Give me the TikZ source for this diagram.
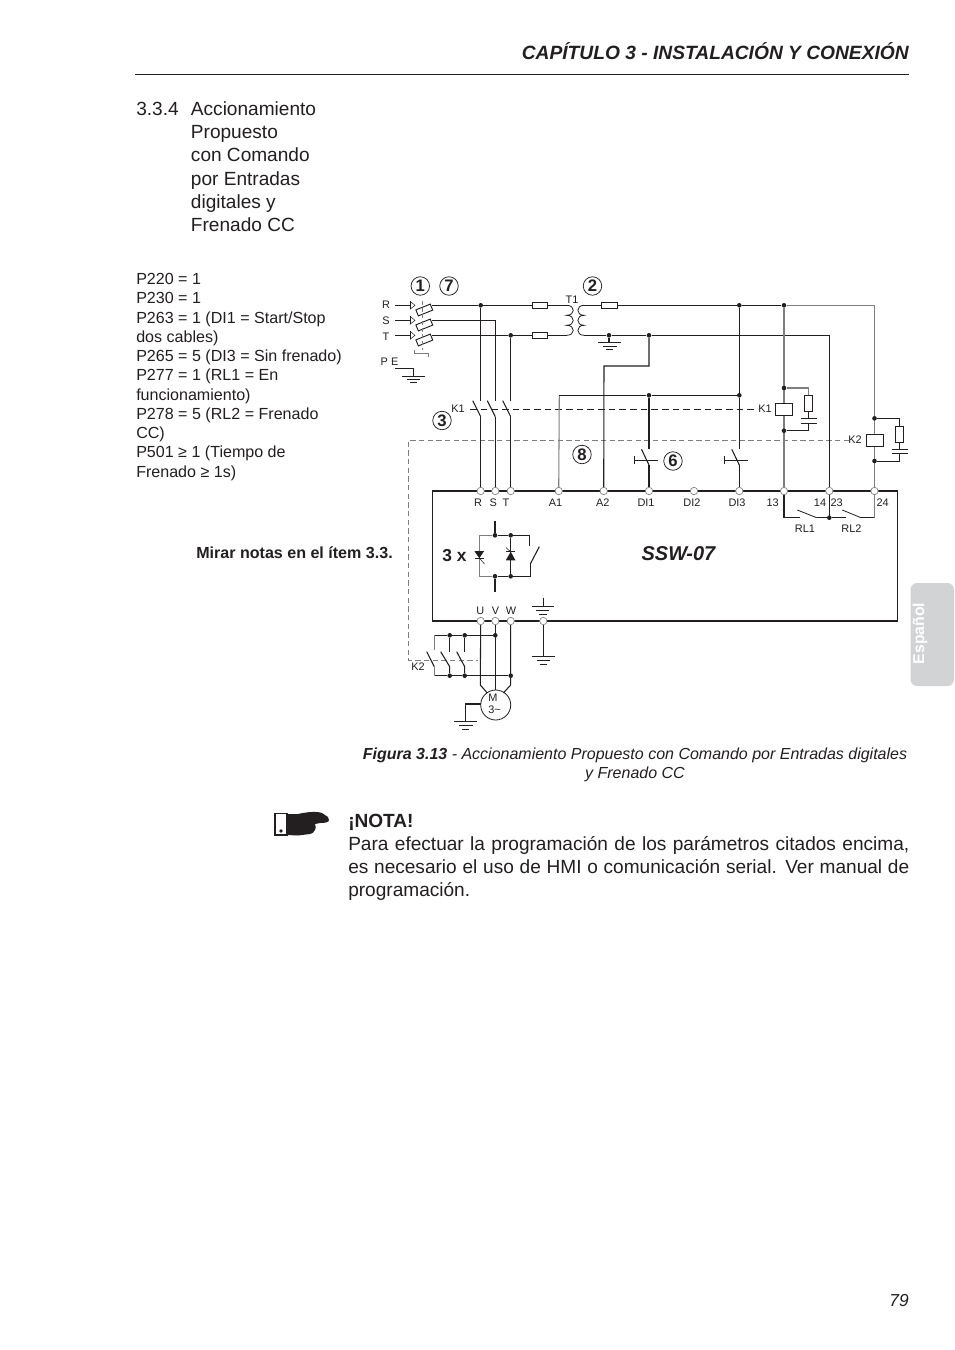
\documentclass[tikz,border=0pt]{standalone}
\usepackage{fontspec}
\setmainfont{Liberation Sans}
\usetikzlibrary{calc}
\definecolor{ink}{HTML}{231F20}
\definecolor{gwire}{HTML}{7F7F7F}
\definecolor{tabgray}{HTML}{D2D3D4}
\newcommand{\szbody}{\fontsize{14.3pt}{17pt}\selectfont}
\newcommand{\szpar}{\fontsize{12.05pt}{14pt}\selectfont}
\newcommand{\szlab}{\fontsize{8.2pt}{10pt}\selectfont}
\tikzset{
 wire/.style={line width=.8pt,draw=ink},
 gray wire/.style={line width=.8pt,draw=gwire},
 thinw/.style={line width=.6pt,draw=ink},
 txt/.style={inner sep=0pt,anchor=base west,text=ink},
 lab/.style={inner sep=0pt,anchor=base,text=ink,font=\szlab},
 dotj/.style={circle,fill=ink,inner sep=0pt,minimum size=4.6pt*.75},
 termn/.style={circle,draw=gwire,fill=white,line width=.5pt,inner sep=0pt,minimum size=7.4pt*.75},
 numc/.style={circle,draw=ink,line width=.55pt,inner sep=0pt,minimum size=18.5pt*.75,font=\fontsize{12.5pt}{14pt}\selectfont\bfseries,text=ink},
 fusebox/.style={rectangle,draw=ink,fill=white,line width=.7pt,inner sep=0pt,minimum width=15.5pt*.75,minimum height=6.5pt*.75},
 resbox/.style={rectangle,draw=ink,fill=white,line width=.7pt,inner sep=0pt,minimum width=8pt*.75,minimum height=16pt*.75},
 coilbox/.style={rectangle,draw=ink,fill=white,line width=.8pt,inner sep=0pt,minimum width=17pt*.75,minimum height=12.5pt*.75},
}
\begin{document}
\begin{tikzpicture}[x=0.75pt,y=-0.75pt]
\useasboundingbox (0,0) rectangle (954,1350);
\fill[white] (0,0) rectangle (954,1350);
% ---- page text
\node[inner sep=0pt,anchor=base east,text=ink,font=\fontsize{14.4pt}{17pt}\selectfont\bfseries\itshape] (head) at (909,59) {CAPÍTULO 3 - INSTALACIÓN Y CONEXIÓN};
\coordinate (ruleA) at (135,74.5);
\coordinate (ruleB) at (909,74.5);
\draw[ink,line width=.6pt] (ruleA)--(ruleB);
\node[txt,font=\szbody] (secn) at (136,115) {3.3.4};
\foreach \n/\yy/\t in {a/115/Accionamiento,b/138/Propuesto,c/161.5/con Comando,d/185/por Entradas,e/208/digitales y,f/231/Frenado CC}
  \node[txt,font=\szbody] (sec\n) at (190.7,\yy) {\t};
\foreach \n/\yy/\t in {a/284/P220 = 1,b/303/P230 = 1,c/323/{P263 = 1 (DI1 = Start/Stop},d/342/dos cables),e/361/P265 = 5 (DI3 = Sin frenado),f/380/P277 = 1 (RL1 = En,g/400/funcionamiento),h/419/P278 = 5 (RL2 = Frenado,i/438/CC),j/457.5/P501 ≥ 1 (Tiempo de,k/477/Frenado ≥ 1s)}
  \node[txt,font=\szpar] (par\n) at (136,\yy) {\t};
\node[inner sep=0pt,anchor=base east,text=ink,font=\fontsize{12.05pt}{14pt}\selectfont\bfseries] (mirar) at (393,558) {Mirar notas en el ítem 3.3.};
\node[inner sep=0pt,anchor=base,text=ink,font=\fontsize{12pt}{14pt}\selectfont\itshape] (capa) at (635,759) {\textbf{Figura 3.13} - Accionamiento Propuesto con Comando por Entradas digitales};
\node[inner sep=0pt,anchor=base,text=ink,font=\fontsize{12pt}{14pt}\selectfont\itshape] (capb) at (635,778) {y Frenado CC};
\node[txt,font=\szbody\bfseries] (nota) at (348,827) {¡NOTA!};
\node[txt,font=\szbody] (nl1) at (348,850) {\hbox to 420.75pt{Para efectuar la programación de los parámetros citados encima,}};
\node[txt,font=\szbody] (nl2) at (348,873) {\hbox to 420.75pt{es necesario el uso de HMI o comunicación serial. Ver manual de}};
\node[txt,font=\szbody] (nl3) at (348,896) {programación.};
\node[inner sep=0pt,anchor=base east,text=ink,font=\fontsize{13pt}{15pt}\selectfont\itshape] (pgn) at (909,1306) {79};
% tab
\fill[tabgray,rounded corners=5pt] (910.5,583) rectangle (954,686);
\node[rotate=90,inner sep=0pt,text=white,font=\fontsize{11.8pt}{14pt}\selectfont\bfseries] (tabt) at (920,633.5) {Español};
% hand
\draw[ink,line width=.9pt,fill=white] (275,813.5) rectangle (287,835);
\fill[ink] (281,831) circle (1.8);
\fill[ink] (287,814) -- (298,814) .. controls (307,812) and (316,811) .. (322,813) -- (328,817) -- (329,820) .. controls (329,822) and (326,823) .. (320,823) -- (315,824) .. controls (316,826) and (316,829) .. (315,830) .. controls (314,833) and (312,833) .. (310,834) -- (298,835.5) -- (287,835) -- cycle;
% ---- box + terminals
\draw[wire] (432.3,491) rectangle (897.7,621);
\foreach \n/\xx in {R/480.7,S/495.3,T/510.7,Aa/558.7,Ab/603.7,Da/649,Db/694,Dc/739.3,Ta/784,Tb/829.3,Tc/874.5}
  \node[termn] (t\n) at (\xx,491) {};
\foreach \n/\xx in {U/480.7,V/495.3,W/510.7,G/543.3}
  \node[termn] (t\n) at (\xx,621) {};
\foreach \xx/\t in {478/R,493.3/S,506/T,555.5/A1,602.7/A2,646/DI1,692/DI2,737/DI3,772.7/13,820/14,836.7/23,882.7/24}
  \node[lab] at (\xx,506.5) {\t};
\node[lab] at (805,532) {RL1};
\node[lab] at (851.5,532) {RL2};
\node[lab] at (480.3,614.5) {U};
\node[lab] at (495.5,614.5) {V};
\node[lab] at (511,614.5) {W};
\node[lab] at (386,308) {R};
\node[lab] at (386,324) {S};
\node[lab] at (386,340) {T};
\node[lab] at (389.5,365) {P E};
\node[lab] at (572,303.5) {T1};
\node[lab] at (458,412.5) {K1};
\node[lab] at (765,412.5) {K1};
\node[lab] at (855,443.5) {K2};
\node[lab] at (418,670.5) {K2};
% numbers
\node[numc] (n1) at (420.3,286) {1};
\node[numc] (n7) at (449,286) {7};
\node[numc] (n2) at (592.5,286) {2};
\node[numc] (n3) at (442,420.5) {3};
\node[numc] (n8) at (582,454.5) {8};
\node[numc] (n6) at (673,461) {6};
% dashed control lines
\draw[ink,line width=.7pt,dash pattern=on 5pt off 3pt] (470,409.3) -- (758,409.3);
\draw[gwire,line width=.7pt,dash pattern=on 4pt off 2.5pt] (849,440) -- (408.5,440) -- (408.5,660) -- (478,660);
% line in: arrows
\foreach \yy/\n in {305.3/r,320.3/s,335.3/t}{
  \draw[wire] (395,\yy) -- (410,\yy);
  \draw[thinw] (410,\yy-4) -- (410,\yy+4);
  \draw[line width=.4pt,draw=ink] (410,\yy-4) -- (415,\yy) -- (410,\yy+4);
  \node[fusebox,rotate=22] (f\n) at (424.3,\yy+4.7) {};
  \coordinate (w\n) at (432.3,\yy);
}
\draw[gwire,line width=.4pt,densely dashed] (422,301) -- (422,350);
\draw[gwire,line width=.5pt] (414.3,350) -- (414.3,353.3) -- (428,353.3) -- (428,357);
% mains
\node[dotj] (jR) at (480.7,305.3) {};
\node[dotj] (jT) at (510.7,335.3) {};
\coordinate (sS) at (495.3,320.3);
\draw[wire] (wr) -- (jR) -- (532,305.3);
\draw[wire] (ws) -- (sS) -- (495.3,400.7);
\draw[wire] (wt) -- (jT) -- (532,335.3);
\draw[wire] (jR) -- (480.7,400.7);
\draw[wire] (jT) -- (510.7,400.7);
% K1 contacts
\foreach \xx/\n in {480.7/R,495.3/S,510.7/T}{
  \draw[wire] (\xx-8,400.7) -- (\xx,416.7);
  \draw[wire] (\xx,416.7) -- (t\n);
}
% fuses
\node[fusebox] (fa) at (540,305.3) {};
\node[fusebox] (fb) at (540,335.3) {};
\node[fusebox] (fc) at (609.5,305.3) {};
\draw[wire] (fa.east) -- (566.7,305.3);
\draw[wire] (fb.east) -- (566.7,335.3);
% transformer
\draw[thinw] (566.7,305.3) .. controls (575.5,305.3) and (575.5,315.3) .. (566.7,315.3)
  .. controls (575.5,315.3) and (575.5,325.3) .. (566.7,325.3)
  .. controls (575.5,325.3) and (575.5,335.3) .. (566.7,335.3);
\draw[thinw] (584,305.3) .. controls (575.8,305.3) and (575.8,315.3) .. (584,315.3)
  .. controls (575.8,315.3) and (575.8,325.3) .. (584,325.3)
  .. controls (575.8,325.3) and (575.8,335.3) .. (584,335.3);
\node[dotj] (jE) at (739.3,305.3) {};
\node[dotj] (jF) at (784,305.3) {};
\coordinate (topR) at (874.5,305.3);
\draw[wire] (584,305.3) -- (fc.west);
\draw[wire] (fc.east) -- (jE) -- (jF);
\draw[gray wire] (jF) -- (topR);
\node[dotj] (jG) at (609,335.3) {};
\node[dotj] (jH) at (649,335.3) {};
\coordinate (botR) at (829.3,335.3);
\draw[wire] (584,335.3) -- (jG) -- (jH) -- (botR) -- (tTb);
\draw[wire] (tTb) -- (829.3,517.7);
% gnd transformer
\draw[wire] (jG) -- (609,342.3);
\draw[thinw] (598,342.3) -- (620.7,342.3) (603,346) -- (617,346) (606,349) -- (613,349);
% PE
\coordinate (peA) at (395,368.3);
\draw[wire] (peA) -- (413.3,368.3) -- (413.3,376);
\draw[thinw] (402.3,376) -- (425,376) (406.7,379.3) -- (420,379.3) (410,382.3) -- (416.7,382.3);
% A2
\draw[wire] (jH) -- (649,366) -- (604,366) -- (tAb);
% A1 + DI lines
\node[dotj] (jI) at (649,395.3) {};
\node[dotj] (jJ) at (739.3,395.3) {};
\draw[gray wire] (559.3,395.3) -- (tAa);
\draw[wire] (559.3,395.3) -- (jI) -- (jJ);
\draw[wire] (jE) -- (jJ) -- (739.3,449.3);
\draw[wire] (jI) -- (649,449.3);
% DI contacts
\foreach \xx/\n in {649/Da,739.3/Dc}{
  \draw[wire] (\xx-7.5,449.3) -- (\xx,465);
  \draw[wire] (\xx,465) -- (t\n);
  \draw[thinw] (\xx-14.5,456) -- (\xx-14.5,464.3);
  \draw[thinw] (\xx-14.5,460) -- (\xx+8.5,460);
}
% K1 coil branch
\draw[gray wire] (jF) -- (784,403);
\draw[gray wire] (784,415.7) -- (tTa);
\node[coilbox] (cK1) at (784.4,409.3) {};
\node[dotj] (jK) at (784,388) {};
\node[dotj] (jL) at (784,430.7) {};
\draw[gray wire] (jK) -- (808.7,388) -- (808.7,395.3);
\node[resbox] (rK1) at (808.7,403.3) {};
\draw[thinw] (rK1.south) -- (808.7,418);
\draw[thinw] (800.7,418) -- (816.7,418);
\draw[thinw] (800.7,423.3) -- (816.7,423.3);
\draw[thinw] (808.7,423.3) -- (808.7,430.7) -- (jL);
% K2 coil branch
\draw[gray wire] (topR) -- (874.5,434.3);
\draw[gray wire] (874.5,446.3) -- (tTc);
\node[coilbox] (cK2) at (875,440.3) {};
\node[dotj] (jM) at (874.5,418.3) {};
\node[dotj] (jN) at (874.5,461) {};
\draw[thinw] (jM) -- (899.3,418.3) -- (899.3,426.3);
\node[resbox] (rK2) at (899.3,434) {};
\draw[thinw] (rK2.south) -- (899.3,449.3);
\draw[thinw] (891.7,449.3) -- (907.7,449.3);
\draw[thinw] (891.7,453.5) -- (907.7,453.5);
\draw[thinw] (899.3,453.5) -- (899.3,461) -- (jN);
% RL1 RL2
\node[dotj] (jO) at (829.3,517.7) {};
\draw[wire] (tTa) -- (784,517.7) -- (800,517.7);
\draw[thinw] (797.3,510) -- (816.7,517.7);
\draw[wire] (816.7,517.7) -- (jO) -- (846,517.7);
\draw[thinw] (842.3,510) -- (861,517.7);
\draw[wire] (861,517.7) -- (874.5,517.7);
\draw[gray wire] (874.5,517.7) -- (tTc);
% power module
\node[dotj] (pa) at (495,535.3) {};
\node[dotj] (pb) at (510.7,535.3) {};
\node[dotj] (pc) at (495,576.3) {};
\node[dotj] (pd) at (510.7,576.3) {};
\coordinate (stubT) at (495,521);
\coordinate (stubB) at (495,591.7);
\draw[wire] (stubT) -- (pa);
\draw[wire] (pc) -- (stubB);
\draw[wire] (pa) -- (pb) -- (529.3,535.3) -- (529.3,546);
\draw[gray wire] (pa) -- (479.3,535.3) -- (479.3,576.3) -- (pc);
\draw[wire] (pc) -- (pd) -- (530.3,576.3) -- (530.3,564);
\draw[wire] (530.3,564) -- (539.3,546.7);
\draw[wire] (pb) -- (pd);
\fill[ink] (474.5,551.2) -- (484,551.2) -- (479.3,558.3) -- cycle;
\draw[thinw] (474.5,558.3) -- (484,558.3);
\draw[line width=.4pt,draw=ink] (479.3,558) -- (484.5,564);
\fill[ink] (505.8,560.3) -- (515.5,560.3) -- (510.7,551.7) -- cycle;
\draw[thinw] (506,551.7) -- (515.3,551.7);
\draw[line width=.4pt,draw=ink] (506,547.5) -- (510.7,552);
\node[inner sep=0pt,anchor=base,text=ink,font=\fontsize{13pt}{14pt}\selectfont\bfseries] (tres) at (454.5,561) {3 x};
\node[inner sep=0pt,anchor=base,text=ink,font=\fontsize{15pt}{17pt}\selectfont\bfseries\itshape] (ssw) at (678.5,560) {SSW-07};
% inner ground
\draw[thinw] (543.3,597.7) -- (543.3,606);
\draw[thinw] (531.7,606) -- (554.3,606) (536.3,610) -- (549.3,610) (539,614) -- (546.7,614);
% outer ground
\draw[wire] (tG) -- (543.3,656.7);
\draw[thinw] (532,656.7) -- (555,656.7) (536.7,660.7) -- (550,660.7) (540,664.3) -- (547,664.3);
% motor
\node[circle,draw=ink,line width=.6pt,inner sep=0pt,minimum size=30pt*.75] (mot) at (495.7,705) {};
\node[lab] at (493,701.5) {M};
\node[lab] at (494.5,713.5) {3\textasciitilde};
\draw[wire] (tU) -- (480.3,685) -- (487.3,693);
\draw[wire] (tV) -- (495.3,690);
\draw[wire] (tW) -- (510.7,685) -- (503.3,693);
\draw[wire] (480.7,704) -- (465.3,704) -- (465.3,721.7);
\draw[thinw] (454.3,721.7) -- (476.7,721.7) (459,725.7) -- (472.7,725.7) (462.3,729.3) -- (469.3,729.3);
% K2 contactor
\node[dotj] (ka) at (449.7,635.3) {};
\node[dotj] (kb) at (464.7,635.3) {};
\node[dotj] (kc) at (495.3,635.3) {};
\node[dotj] (kd) at (449.7,675.7) {};
\node[dotj] (ke) at (464.7,675.7) {};
\node[dotj] (kf) at (510.7,675.7) {};
\draw[wire] (434.3,635.3) -- (ka) -- (kb) -- (kc);
\draw[wire] (434.3,675.7) -- (kd) -- (ke) -- (kf);
\draw[gray wire] (434.3,635.3) -- (434.3,650);
\draw[gray wire] (434.3,666.7) -- (434.3,675.7);
\draw[wire] (ka) -- (449.7,651.7);
\draw[wire] (kb) -- (464.7,651.7);
\draw[wire] (kd) -- (449.7,666.7) -- (440.7,651.7);
\draw[wire] (ke) -- (464.7,666.7) -- (456.7,651.7);
\draw[wire] (434.3,666.7) -- (426.7,651.7);
\end{tikzpicture}
\end{document}
